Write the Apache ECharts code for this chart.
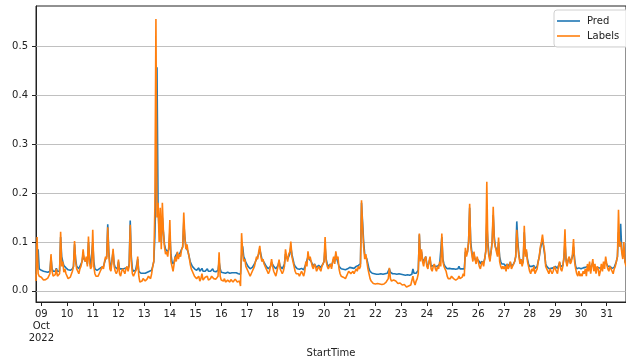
<!DOCTYPE html>
<html>
<head>
<meta charset="utf-8">
<script src="https://cdn.jsdelivr.net/npm/echarts@6/dist/echarts.min.js"></script>
<style>
  html, body { margin: 0; padding: 0; background: #fff; }
  #chart { width: 626px; height: 360px; }
</style>
</head>
<body>
<div id="chart"></div>
<script>
// Hourly series, first sample at 2022-10-08 19:00 (hour -5 relative to Oct 9 00:00)
const startHour = -5;

// Labels (observed), one row per day
const labelValues = [
  // Oct 8, 19:00-23:00
  0.020, 0.110, 0.035, 0.030, 0.028,
  // Oct 9
  0.028, 0.024, 0.022, 0.025, 0.023, 0.022, 0.026, 0.024, 0.035, 0.075, 0.040, 0.030,
  0.028, 0.033, 0.045, 0.030, 0.027, 0.035, 0.121, 0.050, 0.060, 0.038, 0.045, 0.035,
  // Oct 10
  0.030, 0.025, 0.022, 0.028, 0.030, 0.040, 0.050, 0.102, 0.060, 0.045, 0.040, 0.035,
  0.045, 0.050, 0.060, 0.085, 0.065, 0.060, 0.070, 0.050, 0.111, 0.060, 0.045, 0.050,
  // Oct 11
  0.125, 0.050, 0.035, 0.030, 0.028, 0.030, 0.035, 0.040, 0.045, 0.050, 0.045, 0.060,
  0.070, 0.065, 0.130, 0.075, 0.045, 0.040, 0.038, 0.086, 0.050, 0.040, 0.035, 0.040,
  // Oct 12
  0.064, 0.035, 0.030, 0.040, 0.045, 0.040, 0.035, 0.045, 0.050, 0.040, 0.050, 0.135,
  0.060, 0.035, 0.030, 0.028, 0.040, 0.045, 0.070, 0.030, 0.018, 0.022, 0.020, 0.025,
  // Oct 13
  0.025, 0.020, 0.022, 0.025, 0.030, 0.028, 0.025, 0.035, 0.050, 0.060, 0.170, 0.556,
  0.150, 0.180, 0.100, 0.170, 0.085, 0.180, 0.120, 0.090, 0.075, 0.080, 0.070, 0.090,
  // Oct 14
  0.145, 0.060, 0.050, 0.040, 0.055, 0.070, 0.060, 0.080, 0.065, 0.075, 0.070, 0.085,
  0.090, 0.160, 0.110, 0.085, 0.095, 0.080, 0.070, 0.055, 0.045, 0.040, 0.035, 0.030,
  // Oct 15
  0.028, 0.025, 0.022, 0.030, 0.020, 0.025, 0.035, 0.022, 0.020, 0.028, 0.025, 0.030,
  0.022, 0.020, 0.025, 0.030, 0.032, 0.025, 0.022, 0.024, 0.028, 0.030, 0.079, 0.030,
  // Oct 16
  0.022, 0.018, 0.020, 0.025, 0.018, 0.020, 0.022, 0.020, 0.018, 0.023, 0.020, 0.018,
  0.020, 0.024, 0.020, 0.018, 0.015, 0.020, 0.010, 0.118, 0.080, 0.060, 0.065, 0.050,
  // Oct 17
  0.045, 0.040, 0.035, 0.030, 0.035, 0.040, 0.045, 0.050, 0.060, 0.070, 0.065, 0.080,
  0.092, 0.070, 0.060, 0.065, 0.055, 0.050, 0.045, 0.040, 0.035, 0.040, 0.050, 0.065,
  // Oct 18
  0.050, 0.040, 0.035, 0.030, 0.040, 0.050, 0.064, 0.045, 0.040, 0.035, 0.040, 0.050,
  0.085, 0.070, 0.060, 0.075, 0.080, 0.101, 0.070, 0.060, 0.050, 0.040, 0.035, 0.032,
  // Oct 19
  0.035, 0.030, 0.033, 0.040, 0.035, 0.030, 0.040, 0.060, 0.050, 0.081, 0.065, 0.070,
  0.060, 0.050, 0.045, 0.055, 0.050, 0.040, 0.045, 0.050, 0.045, 0.040, 0.050, 0.055,
  // Oct 20
  0.060, 0.110, 0.060, 0.050, 0.045, 0.050, 0.055, 0.045, 0.060, 0.070, 0.055, 0.081,
  0.065, 0.070, 0.045, 0.035, 0.030, 0.032, 0.028, 0.030, 0.025, 0.030, 0.035, 0.040,
  // Oct 21
  0.040, 0.035, 0.038, 0.040, 0.035, 0.040, 0.045, 0.040, 0.050, 0.045, 0.050, 0.185,
  0.130, 0.090, 0.065, 0.075, 0.060, 0.045, 0.035, 0.025, 0.020, 0.016, 0.015, 0.015,
  // Oct 22
  0.014, 0.013, 0.015, 0.012, 0.014, 0.016, 0.013, 0.015, 0.014, 0.016, 0.018, 0.020,
  0.025, 0.047, 0.025, 0.020, 0.018, 0.022, 0.018, 0.020, 0.017, 0.015, 0.018, 0.016,
  // Oct 23
  0.015, 0.012, 0.010, 0.013, 0.010, 0.008, 0.012, 0.010, 0.009, 0.012, 0.015, 0.030,
  0.018, 0.012, 0.020, 0.025, 0.035, 0.117, 0.060, 0.085, 0.060, 0.050, 0.065, 0.070,
  // Oct 24
  0.050, 0.045, 0.060, 0.070, 0.045, 0.040, 0.050, 0.055, 0.045, 0.040, 0.050, 0.045,
  0.060, 0.050, 0.117, 0.060, 0.050, 0.045, 0.040, 0.030, 0.025, 0.028, 0.025, 0.030,
  // Oct 25
  0.030, 0.025, 0.028, 0.022, 0.020, 0.025, 0.030, 0.025, 0.022, 0.028, 0.035, 0.030,
  0.088, 0.070, 0.080, 0.100, 0.178, 0.090, 0.075, 0.060, 0.080, 0.065, 0.055, 0.070,
  // Oct 26
  0.060, 0.050, 0.045, 0.055, 0.060, 0.050, 0.065, 0.080, 0.223, 0.090, 0.070, 0.060,
  0.080, 0.100, 0.172, 0.100, 0.090, 0.080, 0.070, 0.109, 0.060, 0.050, 0.045, 0.050,
  // Oct 27
  0.045, 0.050, 0.040, 0.055, 0.045, 0.050, 0.060, 0.045, 0.050, 0.055, 0.060, 0.070,
  0.125, 0.090, 0.070, 0.055, 0.065, 0.050, 0.060, 0.133, 0.070, 0.085, 0.060, 0.050,
  // Oct 28
  0.040, 0.035, 0.045, 0.040, 0.050, 0.035, 0.040, 0.045, 0.060, 0.070, 0.090, 0.100,
  0.115, 0.095, 0.080, 0.050, 0.045, 0.040, 0.035, 0.045, 0.040, 0.035, 0.040, 0.050,
  // Oct 29
  0.045, 0.040, 0.035, 0.050, 0.060, 0.045, 0.040, 0.050, 0.070, 0.126, 0.060, 0.050,
  0.065, 0.070, 0.055, 0.060, 0.075, 0.106, 0.060, 0.045, 0.035, 0.030, 0.040, 0.030,
  // Oct 30
  0.035, 0.030, 0.040, 0.035, 0.045, 0.030, 0.055, 0.040, 0.060, 0.035, 0.050, 0.065,
  0.040, 0.055, 0.035, 0.050, 0.045, 0.030, 0.040, 0.055, 0.040, 0.060, 0.045, 0.070,
  // Oct 31, 00:00-18:00
  0.055, 0.045, 0.040, 0.050, 0.045, 0.040, 0.035, 0.045, 0.050, 0.060, 0.070, 0.166,
  0.090, 0.100, 0.080, 0.065, 0.100, 0.060, 0.050
];

// Pred (model output), same hourly layout
const predValues = [
  // Oct 8, 19:00-23:00
  0.035, 0.070, 0.085, 0.045, 0.042,
  // Oct 9
  0.042, 0.041, 0.040, 0.040, 0.039, 0.038, 0.038, 0.038, 0.040, 0.068, 0.045, 0.040,
  0.038, 0.040, 0.046, 0.040, 0.038, 0.040, 0.110, 0.070, 0.060, 0.052, 0.050, 0.047,
  // Oct 10
  0.045, 0.043, 0.042, 0.042, 0.043, 0.045, 0.050, 0.095, 0.065, 0.050, 0.047, 0.045,
  0.050, 0.055, 0.060, 0.075, 0.065, 0.060, 0.065, 0.055, 0.100, 0.065, 0.050, 0.050,
  // Oct 11
  0.100, 0.060, 0.045, 0.042, 0.042, 0.043, 0.045, 0.045, 0.048, 0.050, 0.050, 0.058,
  0.065, 0.070, 0.136, 0.080, 0.055, 0.048, 0.045, 0.080, 0.055, 0.048, 0.045, 0.045,
  // Oct 12
  0.060, 0.045, 0.042, 0.045, 0.048, 0.045, 0.043, 0.047, 0.050, 0.045, 0.055, 0.144,
  0.070, 0.045, 0.040, 0.038, 0.042, 0.045, 0.065, 0.040, 0.036, 0.036, 0.035, 0.036,
  // Oct 13
  0.037, 0.036, 0.037, 0.038, 0.040, 0.040, 0.040, 0.042, 0.050, 0.060, 0.110, 0.200,
  0.457, 0.170, 0.120, 0.150, 0.100, 0.150, 0.120, 0.095, 0.085, 0.085, 0.080, 0.085,
  // Oct 14
  0.120, 0.075, 0.060, 0.055, 0.060, 0.070, 0.068, 0.078, 0.070, 0.075, 0.075, 0.085,
  0.090, 0.140, 0.110, 0.090, 0.090, 0.080, 0.070, 0.060, 0.055, 0.050, 0.047, 0.045,
  // Oct 15
  0.043, 0.042, 0.040, 0.047, 0.040, 0.040, 0.046, 0.040, 0.038, 0.040, 0.040, 0.045,
  0.040, 0.038, 0.040, 0.043, 0.045, 0.040, 0.038, 0.039, 0.040, 0.042, 0.060, 0.045,
  // Oct 16
  0.038, 0.037, 0.037, 0.038, 0.036, 0.037, 0.038, 0.037, 0.036, 0.037, 0.037, 0.036,
  0.037, 0.038, 0.037, 0.036, 0.035, 0.036, 0.034, 0.070, 0.091, 0.070, 0.065, 0.058,
  // Oct 17
  0.055, 0.050, 0.047, 0.045, 0.046, 0.048, 0.050, 0.055, 0.060, 0.065, 0.065, 0.075,
  0.085, 0.075, 0.065, 0.065, 0.058, 0.055, 0.050, 0.048, 0.045, 0.047, 0.050, 0.058,
  // Oct 18
  0.058, 0.050, 0.047, 0.045, 0.048, 0.052, 0.060, 0.050, 0.047, 0.045, 0.048, 0.055,
  0.075, 0.070, 0.065, 0.070, 0.075, 0.090, 0.075, 0.065, 0.055, 0.050, 0.047, 0.045,
  // Oct 19
  0.045, 0.044, 0.045, 0.046, 0.045, 0.043, 0.047, 0.055, 0.055, 0.070, 0.065, 0.065,
  0.060, 0.055, 0.050, 0.055, 0.052, 0.048, 0.050, 0.052, 0.050, 0.048, 0.050, 0.055,
  // Oct 20
  0.060, 0.090, 0.065, 0.055, 0.050, 0.052, 0.055, 0.050, 0.058, 0.065, 0.060, 0.075,
  0.065, 0.065, 0.050, 0.047, 0.045, 0.045, 0.044, 0.045, 0.043, 0.044, 0.045, 0.047,
  // Oct 21
  0.048, 0.046, 0.047, 0.048, 0.046, 0.047, 0.050, 0.048, 0.052, 0.050, 0.055, 0.180,
  0.140, 0.100, 0.075, 0.075, 0.065, 0.055, 0.045, 0.040, 0.038, 0.036, 0.035, 0.035,
  // Oct 22
  0.035, 0.034, 0.034, 0.034, 0.034, 0.035, 0.034, 0.034, 0.034, 0.035, 0.035, 0.036,
  0.038, 0.045, 0.038, 0.036, 0.035, 0.036, 0.035, 0.035, 0.034, 0.034, 0.035, 0.034,
  // Oct 23
  0.034, 0.033, 0.033, 0.033, 0.032, 0.032, 0.033, 0.032, 0.032, 0.033, 0.034, 0.045,
  0.036, 0.034, 0.036, 0.038, 0.042, 0.115, 0.070, 0.080, 0.065, 0.060, 0.065, 0.070,
  // Oct 24
  0.055, 0.050, 0.058, 0.065, 0.050, 0.048, 0.052, 0.055, 0.050, 0.047, 0.050, 0.050,
  0.055, 0.055, 0.110, 0.065, 0.055, 0.050, 0.047, 0.045, 0.044, 0.046, 0.045, 0.045,
  // Oct 25
  0.046, 0.045, 0.047, 0.044, 0.043, 0.045, 0.050, 0.045, 0.043, 0.045, 0.048, 0.045,
  0.080, 0.075, 0.080, 0.100, 0.170, 0.100, 0.080, 0.065, 0.075, 0.065, 0.060, 0.065,
  // Oct 26
  0.065, 0.060, 0.055, 0.060, 0.062, 0.058, 0.065, 0.080, 0.140, 0.100, 0.075, 0.068,
  0.080, 0.100, 0.155, 0.110, 0.090, 0.085, 0.075, 0.100, 0.070, 0.060, 0.055, 0.055,
  // Oct 27
  0.055, 0.055, 0.050, 0.055, 0.050, 0.052, 0.058, 0.050, 0.052, 0.055, 0.060, 0.070,
  0.142, 0.100, 0.075, 0.060, 0.065, 0.055, 0.060, 0.120, 0.075, 0.080, 0.065, 0.055,
  // Oct 28
  0.050, 0.047, 0.050, 0.048, 0.052, 0.046, 0.048, 0.050, 0.060, 0.070, 0.085, 0.095,
  0.105, 0.090, 0.075, 0.055, 0.050, 0.047, 0.045, 0.048, 0.046, 0.045, 0.047, 0.050,
  // Oct 29
  0.050, 0.048, 0.046, 0.052, 0.058, 0.050, 0.048, 0.052, 0.065, 0.100, 0.065, 0.055,
  0.062, 0.068, 0.058, 0.060, 0.070, 0.090, 0.065, 0.050, 0.045, 0.043, 0.047, 0.043,
  // Oct 30
  0.045, 0.044, 0.047, 0.045, 0.048, 0.044, 0.050, 0.047, 0.052, 0.046, 0.050, 0.058,
  0.048, 0.052, 0.046, 0.050, 0.048, 0.044, 0.046, 0.050, 0.047, 0.052, 0.050, 0.060,
  // Oct 31, 00:00-18:00
  0.055, 0.050, 0.048, 0.050, 0.048, 0.046, 0.045, 0.048, 0.052, 0.060, 0.070, 0.120,
  0.100, 0.137, 0.085, 0.070, 0.085, 0.060, 0.055
];

// Day ticks (hours since Oct 9 00:00) and their labels
const dayTickHours = [0, 24, 48, 72, 96, 120, 144, 168, 192, 216, 240, 264, 288, 312, 336, 360, 384, 408, 432, 456, 480, 504, 528];
const dayTickLabels = ['09\nOct\n2022', '10', '11', '12', '13', '14', '15', '16', '17', '18', '19', '20',
  '21', '22', '23', '24', '25', '26', '27', '28', '29', '30', '31'];
const yTicks = [0, 0.1, 0.2, 0.3, 0.4, 0.5];

const toPoints = vals => vals.map((v, i) => [startHour + i, v]);
const lastHour = startHour + labelValues.length - 1;

const FONT = 'DejaVu Sans';
const chart = echarts.init(document.getElementById('chart'), null, { renderer: 'canvas' });

chart.setOption({
  animation: false,
  backgroundColor: '#fff',
  textStyle: { fontFamily: FONT },
  grid: {
    left: 36, right: 0, top: 6, bottom: 58,
    outerBoundsMode: 'none',
    containLabel: false,
    show: true, borderColor: '#222', borderWidth: 1, backgroundColor: 'transparent'
  },
  legend: {
    data: ['Pred', 'Labels'],
    orient: 'vertical',
    left: 554, top: 10,
    icon: 'rect',
    itemWidth: 23, itemHeight: 1.6, itemGap: 3,
    padding: [5, 12, 5, 3],
    backgroundColor: 'rgba(255,255,255,0.85)',
    borderColor: '#d0d0d0', borderWidth: 1, borderRadius: 3,
    textStyle: { fontFamily: FONT, fontSize: 10, color: '#222', padding: [0, 0, 0, 2], lineHeight: 12 }
  },
  xAxis: {
    type: 'value',
    min: startHour,
    max: lastHour,
    name: 'StartTime',
    nameLocation: 'middle',
    nameGap: 45,
    nameTextStyle: { fontFamily: FONT, fontSize: 10, color: '#222' },
    axisLine: { onZero: false, lineStyle: { color: '#222', width: 1 } },
    axisTick: { customValues: dayTickHours, length: 4, lineStyle: { color: '#222' } },
    axisLabel: {
      customValues: dayTickHours,
      formatter: v => dayTickLabels[dayTickHours.indexOf(v)],
      fontFamily: FONT, fontSize: 10, color: '#222', margin: 6, lineHeight: 12
    },
    splitLine: { show: false }
  },
  yAxis: {
    type: 'value',
    min: -0.0228,
    max: 0.5825,
    axisLine: { show: true, onZero: false, lineStyle: { color: '#222', width: 1 } },
    axisTick: { show: true, customValues: yTicks, length: 4, lineStyle: { color: '#222' } },
    axisLabel: {
      customValues: yTicks,
      formatter: v => v.toFixed(1),
      fontFamily: FONT, fontSize: 10, color: '#222', margin: 8
    },
    splitLine: { show: false }
  },
  series: [
    {
      name: 'Pred',
      type: 'line',
      data: toPoints(predValues),
      symbol: 'none',
      z: 2,
      lineStyle: { color: '#1f77b4', width: 1.6 },
      itemStyle: { color: '#1f77b4' },
      markLine: {
        silent: true,
        z: 1,
        symbol: 'none',
        label: { show: false },
        lineStyle: { color: '#b0b0b0', width: 0.8, type: 'solid' },
        data: yTicks.map(v => ({ yAxis: v }))
      }
    },
    {
      name: 'Labels',
      type: 'line',
      data: toPoints(labelValues),
      symbol: 'none',
      z: 3,
      lineStyle: { color: '#ff7f0e', width: 1.6 },
      itemStyle: { color: '#ff7f0e' }
    }
  ]
});
</script>
</body>
</html>
